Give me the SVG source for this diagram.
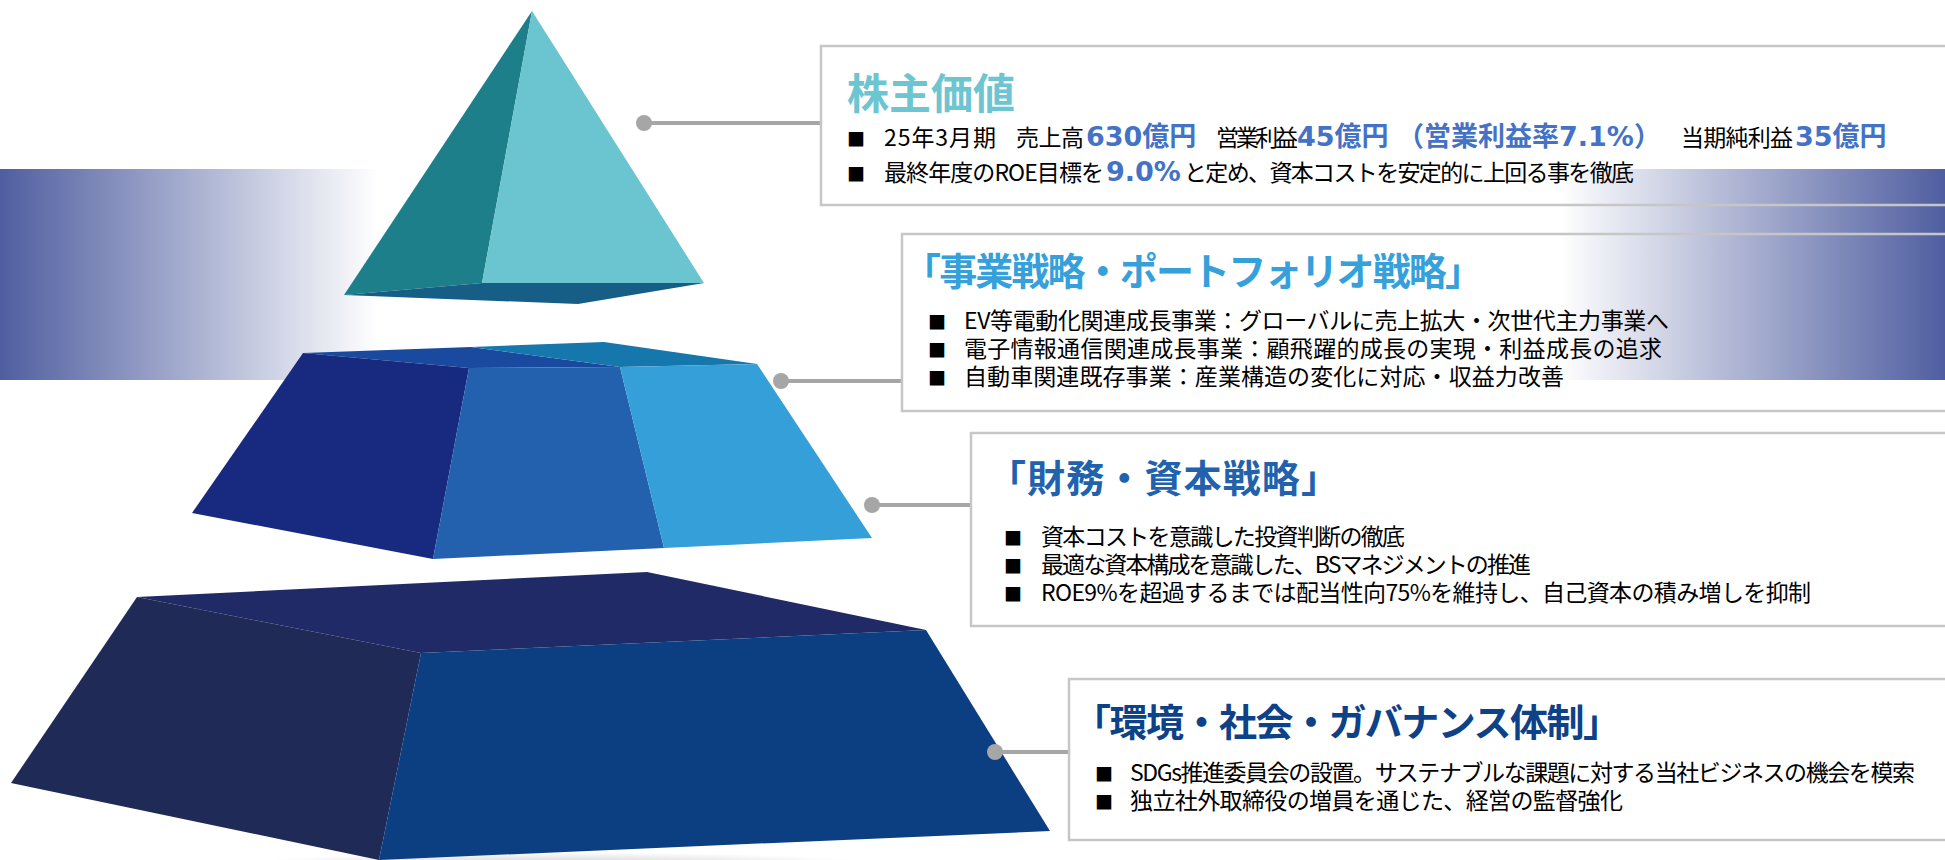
<svg xmlns="http://www.w3.org/2000/svg" width="1945" height="860" viewBox="0 0 1945 860">
  <defs>
    <linearGradient id="bandLeft" x1="0" y1="0" x2="1" y2="0">
      <stop offset="0" stop-color="#4f5ea0" stop-opacity="1"/>
      <stop offset="1" stop-color="#4f5ea0" stop-opacity="0"/>
    </linearGradient>
    <linearGradient id="bandRight" x1="0" y1="0" x2="1" y2="0">
      <stop offset="0" stop-color="#4f5ea0" stop-opacity="0"/>
      <stop offset="1" stop-color="#4f5ea0" stop-opacity="1"/>
    </linearGradient>
    <radialGradient id="floorShadow" cx="0.5" cy="0.5" r="0.5">
      <stop offset="0" stop-color="#bdbdbd" stop-opacity="0.8"/>
      <stop offset="1" stop-color="#bdbdbd" stop-opacity="0"/>
    </radialGradient>
    <style>
      .panel { fill: none; stroke: #c6c6c6; stroke-width: 2.5; }
      .title { font-family: "Noto Sans CJK JP", "Noto Sans CJK SC", sans-serif; font-weight: bold; }
      .body { font-family: "Noto Sans CJK JP", "Noto Sans CJK SC", sans-serif; font-size: 23px; fill: #000000; }
      .num { font-family: "DejaVu Sans", "Noto Sans CJK JP", sans-serif; font-weight: bold; font-size: 27px; fill: #4472c4; }
      .bullet { font-family: "Noto Sans CJK JP", "Noto Sans CJK SC", sans-serif; font-size: 18px; fill: #000000; }
      .conn line { stroke: #a6a6a6; stroke-width: 4; }
      .conn circle { fill: #a6a6a6; }
    </style>
  </defs>

  <rect width="1945" height="860" fill="#ffffff"/>

  <!-- fading bands behind the pyramid and the panels -->
  <rect x="0" y="169" width="378" height="211" fill="url(#bandLeft)"/>
  <rect x="1560" y="169" width="385" height="211" fill="url(#bandRight)"/>

  <!-- soft floor shadow -->
  <ellipse cx="560" cy="866" rx="330" ry="14" fill="url(#floorShadow)"/>

  <!-- pyramid levels -->
  <g id="tier-apex">
    <polygon points="532,11 344,295 482,283" fill="#1c7f8a"/>
    <polygon points="532,11 482,283 704,283" fill="#6bc5d0"/>
    <polygon points="344,295 482,283 704,283 578,304" fill="#165e86"/>
  </g>

  <g id="tier-business">
    <polygon points="303,353 471,347 620,367 469,368" fill="#1a4a9f"/>
    <polygon points="471,347 604,342 757,364 620,367" fill="#1677ad"/>
    <polygon points="303,353 469,368 433,559 192,513" fill="#172a7f"/>
    <polygon points="469,368 620,367 664,548 433,559" fill="#2360ae"/>
    <polygon points="620,367 757,364 872,538 664,548" fill="#359fda"/>
  </g>

  <g id="tier-finance">
    <polygon points="137,597 647,572 926,630 421,653" fill="#202a66"/>
    <polygon points="137,597 421,653 379,860 11,783" fill="#1f2a56"/>
    <polygon points="421,653 926,630 1050,831 379,860" fill="#0b3f82"/>
  </g>

  <!-- leader lines from each level to its panel -->
  <g id="connectors" class="conn">
    <line x1="644" y1="123" x2="822" y2="123"/>
    <circle cx="644" cy="123" r="8"/>
    <line x1="781" y1="381" x2="903" y2="381"/>
    <circle cx="781" cy="381" r="8"/>
    <line x1="872" y1="505" x2="972" y2="505"/>
    <circle cx="872" cy="505" r="8"/>
    <line x1="995" y1="752" x2="1070" y2="752"/>
    <circle cx="995" cy="752" r="8"/>
  </g>

  <!-- panel: shareholder value -->
  <g id="panel-shareholder">
    <rect class="panel" x="821" y="46" width="1140" height="159"/>
    <text class="title" x="847" y="109" font-size="42" fill="#6cc5d0">株主価値</text>
    <text class="bullet" x="847" y="146">■</text>
    <text class="body" x="884" y="146" textLength="112" lengthAdjust="spacing">25年3月期</text>
    <text class="body" x="1016" y="146" textLength="68" lengthAdjust="spacing">売上高</text>
    <text class="num" x="1086" y="146">630億円</text>
    <text class="body" x="1216" y="146" textLength="82" lengthAdjust="spacing">営業利益</text>
    <text class="num" x="1297" y="146">45億円</text>
    <text class="num" x="1397" y="146">（営業利益率7.1%）</text>
    <text class="body" x="1681" y="146" textLength="112" lengthAdjust="spacing">当期純利益</text>
    <text class="num" x="1795" y="146">35億円</text>
    <text class="bullet" x="847" y="181">■</text>
    <text class="body" x="884" y="181" textLength="220" lengthAdjust="spacing">最終年度のROE目標を</text>
    <text class="num" x="1106" y="181">9.0%</text>
    <text class="body" x="1184" y="181" textLength="450" lengthAdjust="spacing">と定め、資本コストを安定的に上回る事を徹底</text>
  </g>

  <!-- panel: business and portfolio strategy -->
  <g id="panel-business">
    <rect class="panel" x="902" y="234" width="1060" height="177"/>
    <text class="title" x="903" y="285" font-size="38" fill="#36a0db" textLength="580" lengthAdjust="spacing">「事業戦略・ポートフォリオ戦略」</text>
    <text class="bullet" x="928" y="329">■</text>
    <text class="body" x="964" y="329" textLength="705" lengthAdjust="spacing">EV等電動化関連成長事業：グローバルに売上拡大・次世代主力事業へ</text>
    <text class="bullet" x="928" y="357">■</text>
    <text class="body" x="964" y="357" textLength="698" lengthAdjust="spacing">電子情報通信関連成長事業：顧飛躍的成長の実現・利益成長の追求</text>
    <text class="bullet" x="928" y="385">■</text>
    <text class="body" x="964" y="385" textLength="600" lengthAdjust="spacing">自動車関連既存事業：産業構造の変化に対応・収益力改善</text>
  </g>

  <!-- panel: finance and capital strategy -->
  <g id="panel-finance">
    <rect class="panel" x="971" y="433" width="990" height="193"/>
    <text class="title" x="988" y="492" font-size="38" fill="#2262ad" textLength="351" lengthAdjust="spacing">「財務・資本戦略」</text>
    <text class="bullet" x="1004" y="545">■</text>
    <text class="body" x="1041" y="545" textLength="364" lengthAdjust="spacing">資本コストを意識した投資判断の徹底</text>
    <text class="bullet" x="1004" y="573">■</text>
    <text class="body" x="1041" y="573" textLength="490" lengthAdjust="spacing">最適な資本構成を意識した、BSマネジメントの推進</text>
    <text class="bullet" x="1004" y="601">■</text>
    <text class="body" x="1041" y="601" textLength="770" lengthAdjust="spacing">ROE9%を超過するまでは配当性向75%を維持し、自己資本の積み増しを抑制</text>
  </g>

  <!-- panel: ESG and governance -->
  <g id="panel-governance">
    <rect class="panel" x="1069" y="679" width="890" height="161"/>
    <text class="title" x="1073" y="736" font-size="38" fill="#0e4288" textLength="548" lengthAdjust="spacing">「環境・社会・ガバナンス体制」</text>
    <text class="bullet" x="1095" y="781">■</text>
    <text class="body" x="1130" y="781" textLength="785" lengthAdjust="spacing">SDGs推進委員会の設置。サステナブルな課題に対する当社ビジネスの機会を模索</text>
    <text class="bullet" x="1095" y="809">■</text>
    <text class="body" x="1130" y="809" textLength="493" lengthAdjust="spacing">独立社外取締役の増員を通じた、経営の監督強化</text>
  </g>
</svg>
